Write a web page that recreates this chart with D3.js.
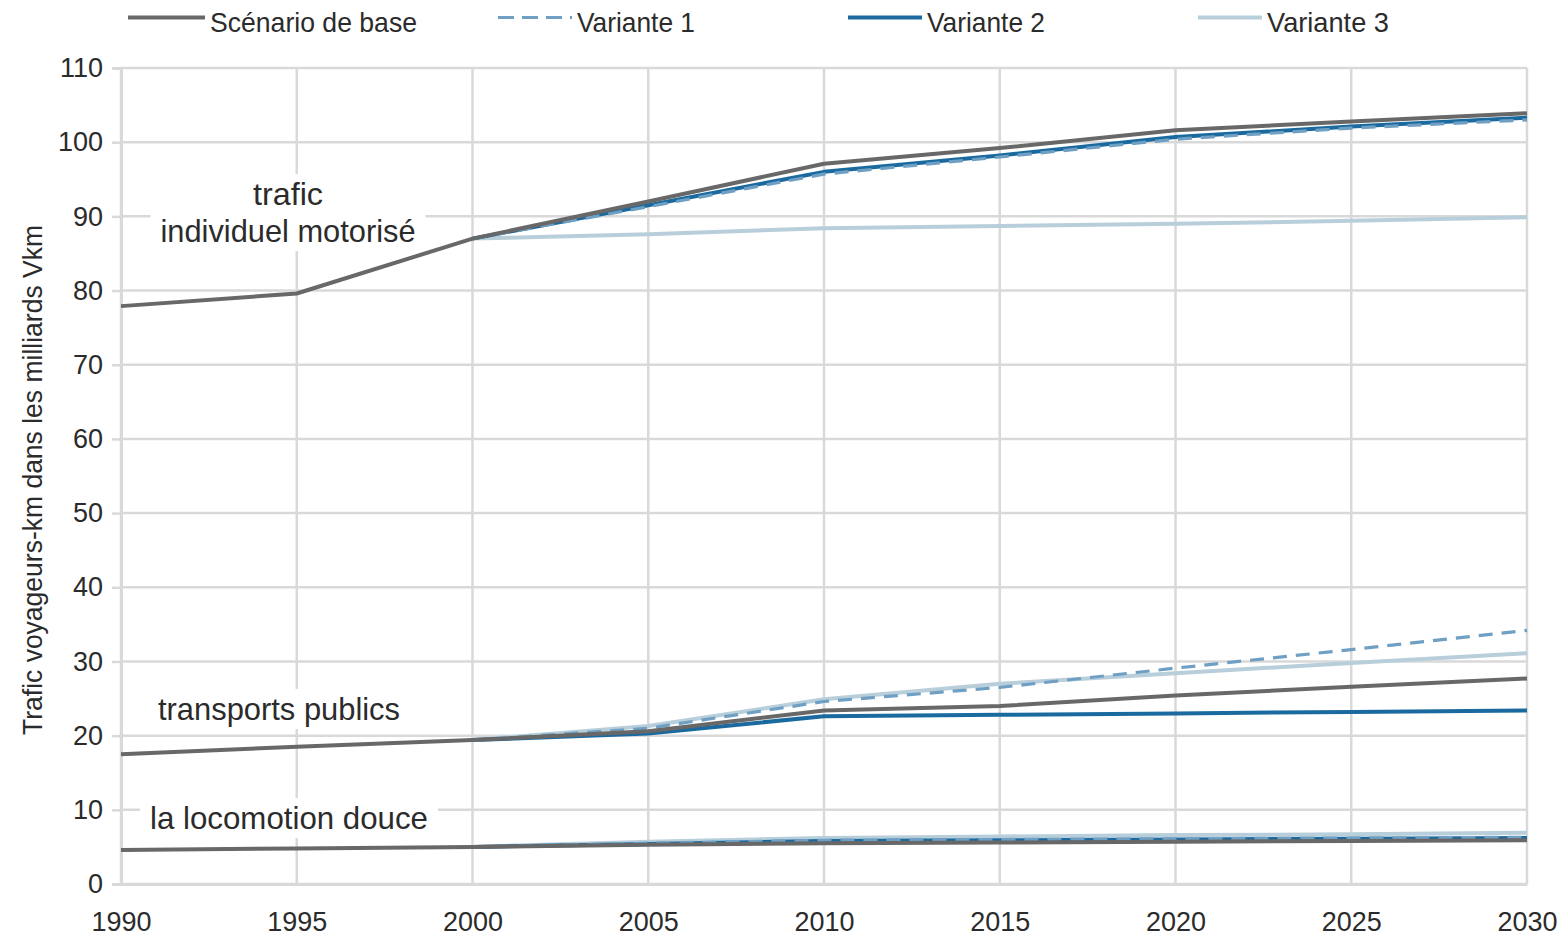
<!DOCTYPE html>
<html><head><meta charset="utf-8">
<script src="https://cdn.jsdelivr.net/npm/d3@7"></script>
<style>
html,body{margin:0;padding:0;background:#fff;}
svg{display:block;}
text{font-family:"Liberation Sans Narrow","Arial Narrow","Liberation Sans",Arial,sans-serif;fill:#2b2b2b;}
</style></head>
<body><svg id="c" width="1560" height="944"></svg>
<script>
const yearsBase = [1990,1995,2000,2005,2010,2015,2020,2025,2030];
const yearsVar  = [2000,2005,2010,2015,2020,2025,2030];
const xTicks = [1990,1995,2000,2005,2010,2015,2020,2025,2030];
const yTicks = [0,10,20,30,40,50,60,70,80,90,100,110];
const seriesNames = ["Scénario de base","Variante 1","Variante 2","Variante 3"];

// trafic individuel motorisé
const timBase = [77.9,79.6,87.0,92.0,97.1,99.2,101.6,102.8,103.9];
const timV1   = [87.0,91.3,95.7,98.0,100.4,101.9,103.0];
const timV2   = [87.0,91.5,96.0,98.2,100.7,102.1,103.3];
const timV3   = [87.0,87.6,88.4,88.7,89.0,89.4,89.9];
// transports publics
const tpBase = [17.5,18.5,19.4,20.6,23.4,24.0,25.4,26.6,27.7];
const tpV1   = [19.4,21.0,24.6,26.5,29.1,31.6,34.2];
const tpV2   = [19.4,20.3,22.6,22.8,23.0,23.2,23.4];
const tpV3   = [19.4,21.3,24.9,27.0,28.4,29.8,31.1];
// locomotion douce
const ldBase = [4.6,4.8,5.0,5.3,5.5,5.6,5.7,5.8,5.9];
const ldV1   = [5.0,5.5,5.9,6.0,6.1,6.2,6.3];
const ldV2   = [5.0,5.4,5.8,5.9,6.0,6.1,6.2];
const ldV3   = [5.0,5.7,6.2,6.4,6.6,6.7,6.9];

const svg = d3.select("#c");
const x = d3.scaleLinear().domain([1990,2030]).range([121,1527]);
const y = d3.scaleLinear().domain([0,110]).range([884,68]);
const grid = "#d9d9d9";

// gridlines
const g = svg.append("g");
g.selectAll("line.h").data(yTicks).join("line")
  .attr("x1",x(1990)).attr("x2",x(2030)).attr("y1",d=>y(d)).attr("y2",d=>y(d))
  .attr("stroke",grid).attr("stroke-width",2.5);
g.selectAll("line.v").data(xTicks).join("line")
  .attr("x1",d=>x(d)).attr("x2",d=>x(d)).attr("y1",y(110)).attr("y2",y(0))
  .attr("stroke",grid).attr("stroke-width",2.5);

// axes
const yAxis = d3.axisLeft(y).tickValues(yTicks).tickSize(9).tickPadding(8);
const ya = svg.append("g").attr("transform",`translate(${x(1990)},0)`).call(yAxis);
ya.select(".domain").attr("stroke",grid).attr("stroke-width",3);
ya.selectAll(".tick line").attr("stroke",grid).attr("stroke-width",2.5);
ya.selectAll(".tick text").style("font-size","27px").attr("fill","#3a3a3a").attr("x",-18);

const xAxis = d3.axisBottom(x).tickValues(xTicks).tickFormat(d3.format("d")).tickSize(0).tickPadding(27);
const xa = svg.append("g").attr("transform",`translate(0,${y(0)})`).call(xAxis);
xa.select(".domain").attr("stroke",grid).attr("stroke-width",3);
xa.selectAll(".tick text").style("font-size","28px").attr("fill","#3a3a3a")
  .attr("textLength",60).attr("lengthAdjust","spacingAndGlyphs");

// labels with white background
function label(lines, cx, cy, lh, widths){
  const gg = svg.append("g");
  const rect = gg.append("rect").attr("fill","#fff");
  const t = gg.append("text").attr("text-anchor","middle").style("font-size","32px");
  lines.forEach((l,i)=>t.append("tspan").attr("x",cx).attr("y",cy+i*lh)
    .attr("textLength",widths[i]).attr("lengthAdjust","spacingAndGlyphs").text(l));
  const b = t.node().getBBox();
  rect.attr("x",cx-b.width/2-10).attr("y",b.y-2).attr("width",b.width+20).attr("height",b.height+4);
}
label(["trafic","individuel motorisé"], 288, 205, 37, [70,255]);
label(["transports publics"], 279, 720, 0, [242]);
label(["la locomotion douce"], 289, 829, 0, [278]);

// lines
const line = (yrs)=> d3.line().x((d,i)=>x(yrs[i])).y(d=>y(d));
const styles = {
  base:{stroke:"#686868",w:4,dash:null},
  v1:{stroke:"#6fa0c4",w:3.2,dash:"14,9"},
  v2:{stroke:"#1b6a9f",w:4,dash:null},
  v3:{stroke:"#b8cfdb",w:4,dash:null}
};
function draw(data, yrs, st){
  svg.append("path").datum(data).attr("d",line(yrs))
    .attr("fill","none").attr("stroke",st.stroke).attr("stroke-width",st.w)
    .attr("stroke-dasharray",st.dash).attr("stroke-linejoin","round");
}
[[timV3,tpV3,ldV3,"v3"],[timV2,tpV2,ldV2,"v2"],[timV1,tpV1,ldV1,"v1"]].forEach(a=>{
  draw(a[0],yearsVar,styles[a[3]]); draw(a[1],yearsVar,styles[a[3]]); draw(a[2],yearsVar,styles[a[3]]);
});
draw(timBase,yearsBase,styles.base); draw(tpBase,yearsBase,styles.base); draw(ldBase,yearsBase,styles.base);

// legend
const leg = [
  {name:seriesNames[0],x1:128,x2:205,w:207,st:styles.base},
  {name:seriesNames[1],x1:498,x2:572,w:118,st:styles.v1},
  {name:seriesNames[2],x1:848,x2:922,w:118,st:styles.v2},
  {name:seriesNames[3],x1:1198,x2:1262,w:122,st:styles.v3}
];
const lg = svg.append("g");
leg.forEach(l=>{
  lg.append("line").attr("x1",l.x1).attr("x2",l.x2).attr("y1",17.5).attr("y2",17.5)
    .attr("stroke",l.st.stroke).attr("stroke-width",l.st.w)
    .attr("stroke-dasharray",l.st.dash?"16,8":null);
  lg.append("text").attr("x",l.x2+5).attr("y",32).style("font-size","28px").attr("fill","#333")
    .attr("textLength",l.w).attr("lengthAdjust","spacingAndGlyphs").text(l.name);
});

// y axis title
svg.append("text").attr("transform","translate(42,480) rotate(-90)")
  .attr("text-anchor","middle").style("font-size","27px").attr("fill","#333")
  .attr("textLength",510).attr("lengthAdjust","spacingAndGlyphs")
  .text("Trafic voyageurs-km dans les milliards Vkm");
</script></body></html>
